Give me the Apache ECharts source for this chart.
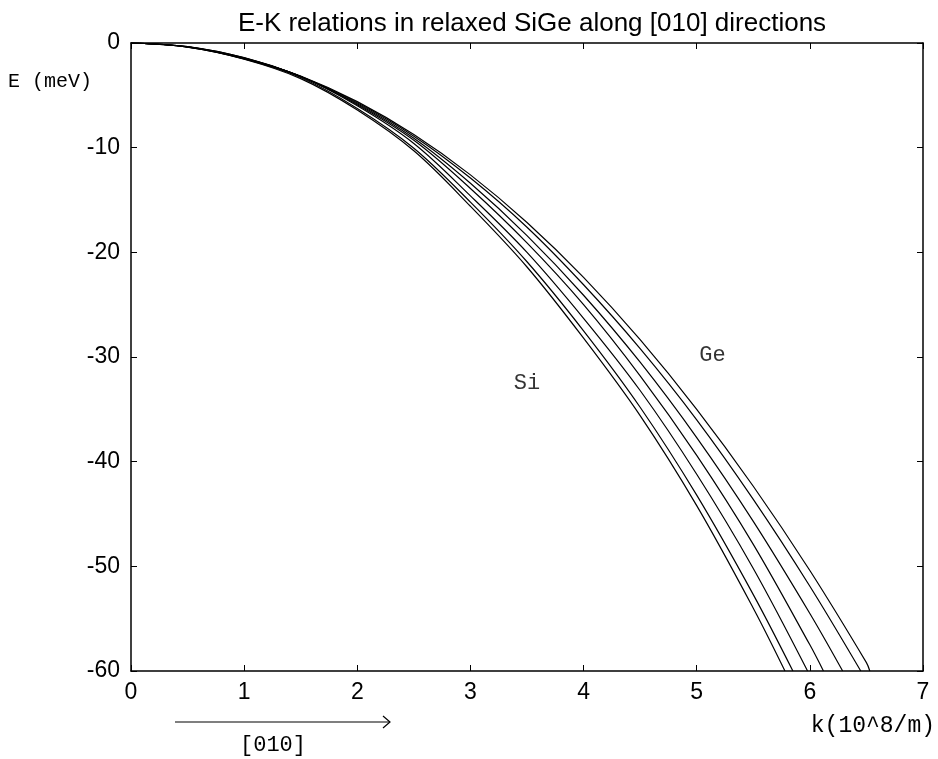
<!DOCTYPE html>
<html>
<head>
<meta charset="utf-8">
<script src="https://cdn.jsdelivr.net/npm/echarts@6/dist/echarts.min.js"></script>
<style>
html,body{margin:0;padding:0;background:#fff;}
#c{width:938px;height:759px;}
</style>
</head>
<body>
<div id="c"></div>
<script>
// k grid (10^8/m)
var kGrid = [0, 0.5, 1, 1.5, 2, 2.5, 3, 3.5, 4, 4.5, 5, 5.5, 6, 6.5];
// E (meV) for each curve, Si -> Ge, on kGrid (until the curve leaves the plot)
var eSi  = [0, -0.40, -1.55, -3.40, -6.40, -10.3, -15.6, -21.4, -28.2, -35.6, -44.2, -54.0];
var eC2  = [0, -0.39, -1.52, -3.30, -6.25, -10.05, -15.2, -20.9, -27.5, -34.8, -43.2, -52.7];
var eC3  = [0, -0.38, -1.50, -3.20, -6.00, -9.60, -14.6, -20.0, -26.3, -33.2, -41.2, -50.2];
var eC4  = [0, -0.37, -1.47, -3.20, -5.90, -9.30, -13.9, -19.1, -25.0, -31.8, -39.4, -47.9, -57.5];
var eC5  = [0, -0.36, -1.45, -3.20, -5.80, -9.10, -13.4, -18.4, -24.1, -30.5, -37.7, -45.7, -54.5];
var eC6  = [0, -0.35, -1.42, -3.20, -5.70, -8.90, -12.9, -17.6, -23.1, -29.2, -36.0, -43.6, -51.9];
var eGe  = [0, -0.35, -1.40, -3.15, -5.60, -8.75, -12.6, -17.15, -22.4, -28.35, -35.0, -42.35, -50.4, -59.2];
var curves = [eSi, eC2, eC3, eC4, eC5, eC6, eGe];
// k where each curve reaches E = -60 meV
var endK = [5.78, 5.85, 5.98, 6.12, 6.29, 6.45, 6.53];
var endE = -60;
// in-plot labels
var labelNames = ['Si', 'Ge'];
var labelK = [3.50, 5.14];
var labelE = [-32.5, -29.8];
// axis ticks
var xTicks = [0, 1, 2, 3, 4, 5, 6, 7];
var yTicks = [-60, -50, -40, -30, -20, -10, 0];

var chart = echarts.init(document.getElementById('c'), null, {renderer: 'canvas'});

var series = curves.map(function (arr, i) {
  var data = arr.map(function (e, j) { return [kGrid[j], e]; });
  data.push([endK[i], endE]);
  return {
    type: 'line',
    data: data,
    showSymbol: false,
    smooth: 0.35,
    clip: true,
    silent: true,
    lineStyle: {color: '#000', width: 1.2},
    z: 3
  };
});
series.push({
  type: 'scatter',
  symbolSize: 0,
  silent: true,
  data: labelNames.map(function (n, i) { return {value: [labelK[i], labelE[i]], name: n}; }),
  label: {
    show: true,
    position: 'inside',
    formatter: function (p) { return p.name; },
    fontFamily: 'Liberation Mono',
    fontSize: 22,
    color: '#000'
  }
});

var tickStyle = {inside: true, length: 6, lineStyle: {color: '#000', width: 1}};
var lineStyle = {show: true, onZero: false, lineStyle: {color: '#000', width: 1.5}};
var labelFont = {fontFamily: 'Liberation Sans', fontSize: 23, color: '#000'};

chart.setOption({
  animation: false,
  backgroundColor: '#fff',
  title: {
    text: 'E-K relations in relaxed SiGe along [010] directions',
    left: 527,
    textAlign: 'center',
    top: 6,
    textStyle: {fontFamily: 'Liberation Sans', fontSize: 26, fontWeight: 'normal', color: '#000'}
  },
  grid: {left: 131, right: 15, top: 43, bottom: 88},
  xAxis: [{
    type: 'value', min: xTicks[0], max: xTicks[xTicks.length - 1], interval: 1,
    position: 'bottom',
    axisLine: lineStyle, axisTick: tickStyle,
    axisLabel: Object.assign({margin: 10}, labelFont),
    splitLine: {show: false}
  }, {
    type: 'value', min: xTicks[0], max: xTicks[xTicks.length - 1], interval: 1,
    position: 'top',
    axisLine: lineStyle, axisTick: tickStyle,
    axisLabel: {show: false},
    splitLine: {show: false}
  }],
  yAxis: [{
    type: 'value', min: yTicks[0], max: yTicks[yTicks.length - 1], interval: 10,
    position: 'left',
    axisLine: lineStyle, axisTick: tickStyle,
    axisLabel: Object.assign({margin: 11}, labelFont),
    splitLine: {show: false}
  }, {
    type: 'value', min: yTicks[0], max: yTicks[yTicks.length - 1], interval: 10,
    position: 'right',
    axisLine: lineStyle, axisTick: tickStyle,
    axisLabel: {show: false},
    splitLine: {show: false}
  }],
  graphic: [
    {type: 'text', left: 8, top: 72,
     style: {text: 'E (meV)', font: '20px "Liberation Mono"', fill: '#000'}},
    {type: 'text', right: 3, top: 714,
     style: {text: 'k(10^8/m)', font: '23px "Liberation Mono"', fill: '#000'}},
    {type: 'line', shape: {x1: 175, y1: 722, x2: 390, y2: 722},
     style: {stroke: '#000', lineWidth: 1.2}},
    {type: 'polyline', shape: {points: [[383, 716], [390, 722], [383, 728]]},
     style: {stroke: '#000', lineWidth: 1.2, fill: null}},
    {type: 'text', left: 240, top: 734,
     style: {text: '[010]', font: '22px "Liberation Mono"', fill: '#000'}}
  ],
  series: series
});
</script>
</body>
</html>
